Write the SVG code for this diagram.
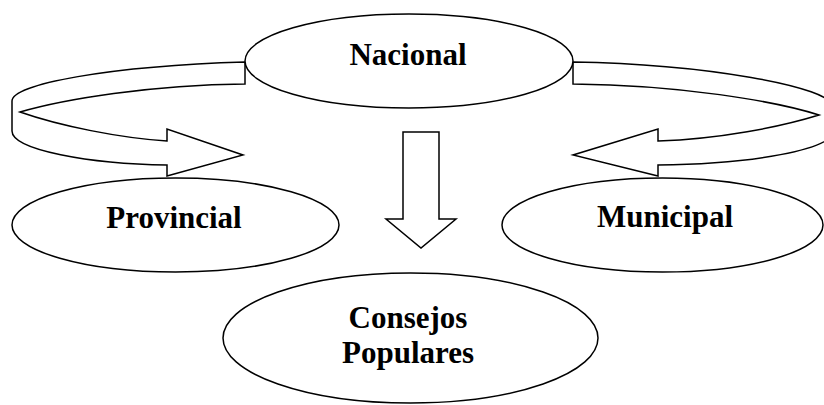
<svg xmlns="http://www.w3.org/2000/svg" width="824" height="405" viewBox="0 0 824 405">
<style>
.s{fill:#fff;stroke:#000;stroke-width:1.5;stroke-linejoin:miter}
.t{font-family:"Liberation Serif","Times New Roman",serif;font-weight:bold;font-size:31px;text-anchor:middle;fill:#000}
</style>
<rect width="824" height="405" fill="#fff"/>
<g id="connectors">
<path class="s" d="M245,62 C110,66 12,84 12,101 L12,131 C12,150 90,164 167,165 L167,176 L243,155 L167,129 L167,141 C120,138 60,126 20,112 C65,99 150,85 245,84 Z"/>
<path class="s" d="M573,62 C700,64 834,86 834,108 L834,130 C834,150 750,164 658,165 L658,176 L573,155 L658,129 L658,141 C720,139 780,127 819,115 C775,101 680,85 573,84 Z"/>
<path class="s" d="M403,132 L439,132 L439,219 L456,219 L421,248 L386,219 L403,219 Z"/>
</g>
<g id="nacional">
<ellipse class="s" cx="409" cy="61" rx="164" ry="47"/>
<text class="t" x="408" y="65">Nacional</text>
</g>
<g id="provincial">
<ellipse class="s" cx="175.5" cy="225" rx="163.5" ry="47"/>
<text class="t" x="174" y="228">Provincial</text>
</g>
<g id="municipal">
<ellipse class="s" cx="662.5" cy="225" rx="160.5" ry="47"/>
<text class="t" x="665" y="227">Municipal</text>
</g>
<g id="consejos">
<ellipse class="s" cx="410.5" cy="338" rx="187.5" ry="65"/>
<text class="t" x="408" y="328">Consejos</text>
<text class="t" x="408" y="363">Populares</text>
</g>
</svg>
